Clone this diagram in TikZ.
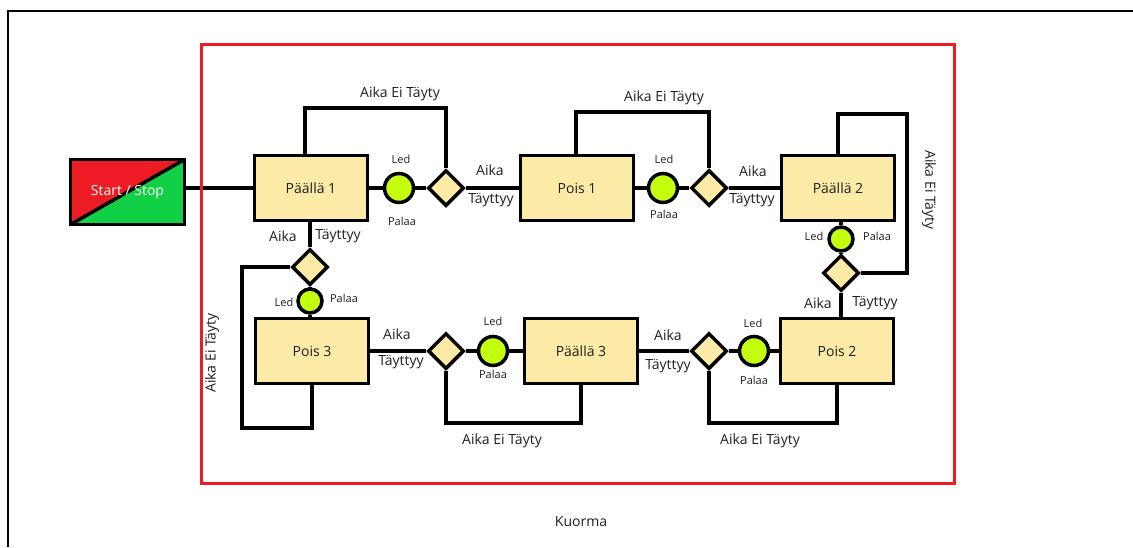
\documentclass[tikz,border=0pt]{standalone}
\usepackage{fontspec}
\setmainfont{Open Sans}
\usetikzlibrary{shapes.geometric,backgrounds}
\definecolor{boxfill}{RGB}{252,234,167}
\definecolor{ledgreen}{RGB}{196,255,14}
\definecolor{ssred}{RGB}{237,28,36}
\definecolor{ssgreen}{RGB}{17,208,69}
\definecolor{txt}{RGB}{30,30,30}
\begin{document}
\begin{tikzpicture}[x=1pt,y=-1pt,
  state/.style={draw,line width=3.5pt,fill=boxfill,minimum width=113pt,minimum height=65pt,inner sep=0pt,font=\fontsize{14}{16}\selectfont,text=txt},
  led/.style={circle,draw,line width=3.5pt,fill=ledgreen,minimum size=29pt,inner sep=0pt},
  ledsmall/.style={led,minimum size=24pt},
  dec/.style={diamond,draw,line width=3.5pt,fill=boxfill,minimum size=36pt,inner sep=0pt},
  wire/.style={line width=3.5pt,line join=miter},
  lbl/.style={font=\fontsize{14}{16}\selectfont,text=txt,inner sep=0pt},
  small/.style={font=\fontsize{11}{13}\selectfont,text=txt,inner sep=0pt}]
\useasboundingbox (0,0) rectangle (1133,547);
% frames
\draw[line width=2pt] (8,547) -- (8,11) -- (1133,11);
\draw[ssred,line width=3pt] (201,44) rectangle (954,483);

% start / stop
\node[draw,line width=3.5pt,minimum width=114pt,minimum height=65pt,inner sep=0pt,
  text=white,font=\fontsize{14}{16}\selectfont,
  path picture={
    \fill[ssred] (path picture bounding box.north west) -- (path picture bounding box.north east) -- (path picture bounding box.south west) -- cycle;
    \fill[ssgreen] (path picture bounding box.south east) -- (path picture bounding box.north east) -- (path picture bounding box.south west) -- cycle;
    \draw[line width=3.5pt] (path picture bounding box.south west) -- (path picture bounding box.north east);
  }] (ss) at (127.5,192) {Start / Stop};

% states
\node[state] (p1) at (311,188) {Päällä 1};
\node[led] (l1) at (399,188) {};
\node[dec] (d1) at (446,188) {};
\node[state] (po1) at (577,188) {Pois 1};
\node[led] (l2) at (663,188) {};
\node[dec] (d2) at (709,188) {};
\node[state] (p2) at (838,188) {Päällä 2};
\node[ledsmall] (l3) at (841,239) {};
\node[dec] (d3) at (841,273) {};
\node[state] (po2) at (837,351) {Pois 2};
\node[led] (l4) at (754,351) {};
\node[dec] (d4) at (709,351) {};
\node[state] (p3) at (581,351) {Päällä 3};
\node[led] (l5) at (493,351) {};
\node[dec] (d5) at (446,351) {};
\node[state] (po3) at (312,351) {Pois 3};
\node[ledsmall] (l6) at (310,301) {};
\node[dec] (d6) at (310,267) {};

\coordinate (rc) at (907,273);
\coordinate (lc) at (242,428);

\begin{scope}[on background layer]
\draw[wire] ([yshift=4pt]ss.east) -- (p1.west);
\draw[wire] (p1) -- (l1) -- (d1) -- (po1) -- (l2) -- (d2) -- (p2);
\draw[wire] (l3 |- p2.south) -- (l3) -- (d3) -- (d3 |- po2.north);
\draw[wire] (po2) -- (l4) -- (d4) -- (p3) -- (l5) -- (d5) -- (po3);
\draw[wire] (po3.north -| l6) -- (l6) -- (d6) -- (d6 |- p1.south);
% loops
\draw[wire] ([xshift=-6pt]p1.north) -- ++(0,-46) -| (d1.north);
\draw[wire] ([xshift=-1pt]po1.north) -- ++(0,-42) -| (d2.north);
\draw[wire] (p2.north) -- ++(0,-40) -| (rc) -- (d3.east);
\draw[wire] (d4.south) -- ++(0,52) -| (po2.south);
\draw[wire] (d5.south) -- ++(0,52) -| (p3.south);
\draw[wire] (d6.west) -| (lc) -| (po3.south);
\end{scope}

% labels
\node[lbl] (t1) at (400,94) {Aika Ei Täyty};
\node[lbl] (t2) at (664,98) {Aika Ei Täyty};
\node[lbl,rotate=-90] (t3) at (929,190) {Aika Ei Täyty};
\node[lbl] (t4) at (760,441) {Aika Ei Täyty};
\node[lbl] (t5) at (502,441) {Aika Ei Täyty};
\node[lbl,rotate=90] (t6) at (212,353) {Aika Ei Täyty};

\node[lbl] (a1) at (490,170) {Aika};
\node[lbl] (b1) at (491,200) {Täyttyy};
\node[lbl] (a2) at (753,171) {Aika};
\node[lbl] (b2) at (752,200) {Täyttyy};
\node[lbl] (a3) at (818,303) {Aika};
\node[lbl] (b3) at (875,303) {Täyttyy};
\node[lbl] (a4) at (668,335) {Aika};
\node[lbl] (b4) at (668,366) {Täyttyy};
\node[lbl] (a5) at (397,334) {Aika};
\node[lbl] (b5) at (401,362) {Täyttyy};
\node[lbl] (a6) at (283,236) {Aika};
\node[lbl] (b6) at (338,236) {Täyttyy};

\node[small] (e1) at (401,159) {Led};
\node[small] (f1) at (402,221) {Palaa};
\node[small] (e2) at (664,159) {Led};
\node[small] (f2) at (664,214) {Palaa};
\node[small] (e3) at (814,236) {Led};
\node[small] (f3) at (877,236) {Palaa};
\node[small] (e4) at (753,323) {Led};
\node[small] (f4) at (754,380) {Palaa};
\node[small] (e5) at (493,321) {Led};
\node[small] (f5) at (493,374) {Palaa};
\node[small] (e6) at (284,302) {Led};
\node[small] (f6) at (344,298) {Palaa};

\node[lbl] (k) at (581,522) {Kuorma};
\end{tikzpicture}
\end{document}
